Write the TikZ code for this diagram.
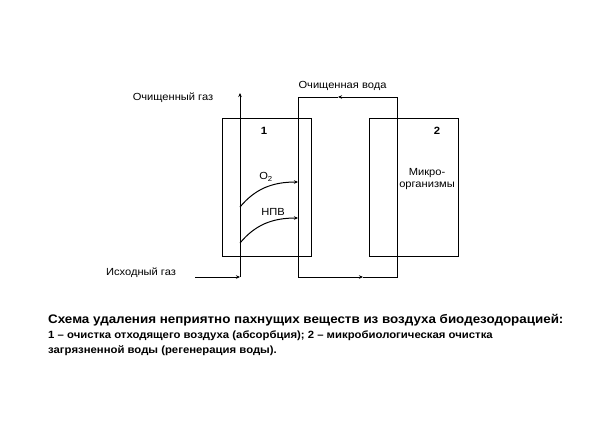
\documentclass[tikz,border=0pt]{standalone}
\usepackage{fontspec}
\setmainfont{Liberation Sans}[FakeStretch=1.08]
\usepackage{tikz}
\usetikzlibrary{arrows.meta,positioning}
\tikzstyle{vessel} = [draw, line width=1pt, minimum width=89pt, minimum height=138pt, inner sep=0pt]
\tikzstyle{lbl} = [font=\fontsize{10.3}{12}\selectfont, inner sep=0pt]
\tikzstyle{flow} = [line width=1pt, -{Stealth[length=4pt,width=3.5pt]}]
\tikzstyle{capline} = [anchor=west, inner sep=0pt]

\begin{document}
\begin{tikzpicture}[x=1pt, y=-1pt]
    \useasboundingbox (0,0) rectangle (597,440);
    % vessels
    \node [vessel] (absorber) at (266.5,187) {};
    \node [vessel] (regen) at (414.3,187) {};
    \node [lbl, font=\bfseries\fontsize{10.5}{12}\selectfont] (one) at (264,131) {1};
    \node [lbl, font=\bfseries\fontsize{10.5}{12}\selectfont] (two) at (437,131) {2};
    \node [lbl, align=center] (micro) at (427,179) {Микро-\\организмы};
    % gas
    \coordinate (gasin) at (195,277);
    \coordinate (gasbot) at (240,277);
    \coordinate (gastop) at (240,93);
    \draw [flow] (gasin) -- (gasbot);
    \draw [flow] (gasbot) -- (gastop);
    \node [lbl] (rawgas) at (141,273) {Исходный газ};
    \node [lbl] (cleangas) at (173,98) {Очищенный газ};
    % water loop
    \coordinate (wtl) at (298,97);
    \coordinate (wtr) at (397,97);
    \coordinate (wbr) at (397,277);
    \coordinate (wbl) at (298,277);
    \coordinate (wtop) at (338,97);
    \coordinate (wbot) at (363,277);
    \draw [flow] (wtr) -- (wtop);
    \draw [flow] (wtop) -- (wtl) -- (wbl) -- (wbot);
    \draw [line width=1pt] (wbot) -- (wbr) -- (wtr);
    \node [lbl] (cleanwater) at (342.5,86) {Очищенная вода};
    % transfer
    \coordinate (oxa) at (240,207);
    \coordinate (oxb) at (298,182);
    \coordinate (npa) at (240,243);
    \coordinate (npb) at (298,218);
    \draw [flow] (oxa) .. controls (255,189) and (272,182) .. (oxb);
    \draw [flow] (npa) .. controls (255,225) and (272,218) .. (npb);
    \node [lbl] (oxygen) at (266,177) {O\textsubscript{2}};
    \node [lbl] (npv) at (273,212) {НПВ};
    % caption
    \node [capline, font=\bfseries\fontsize{12.4}{13}\selectfont] (cap1) at (48,320) {Схема удаления неприятно пахнущих веществ из воздуха биодезодорацией:};
    \node [capline, font=\bfseries\fontsize{10.5}{11}\selectfont] (cap2) at (48,336) {1 -- очистка отходящего воздуха (абсорбция); 2 -- микробиологическая очистка};
    \node [capline, font=\bfseries\fontsize{10.5}{11}\selectfont] (cap3) at (48,351) {загрязненной воды (регенерация воды).};
\end{tikzpicture}
\end{document}
